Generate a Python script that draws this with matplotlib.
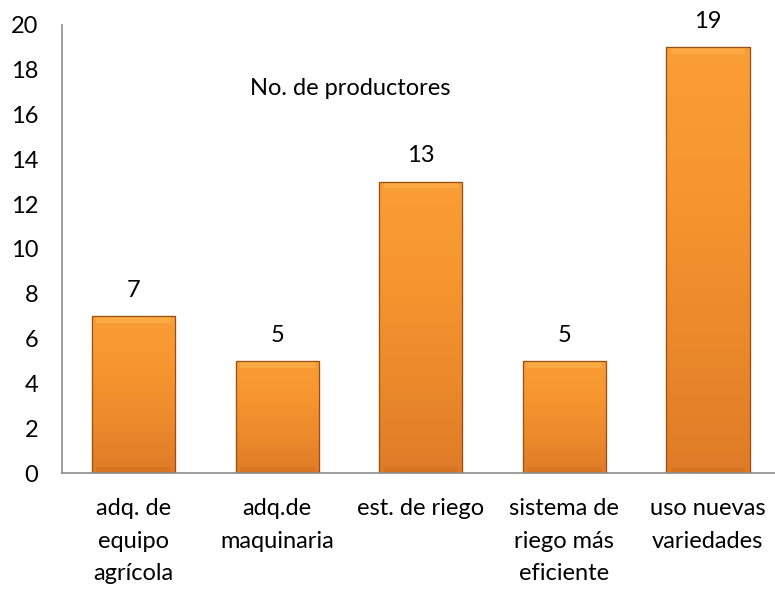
import numpy as np
import matplotlib
matplotlib.use("Agg")
import matplotlib.pyplot as plt
from matplotlib.colors import LinearSegmentedColormap

plt.rcParams['font.family'] = ['Lato', 'DejaVu Sans']

categories = ['adq. de\nequipo\nagrícola', 'adq.de\nmaquinaria', 'est. de riego',
              'sistema de\nriego más\neficiente', 'uso nuevas\nvariedades']
values = [7, 5, 13, 5, 19]
yticks = list(range(0, 21, 2))

fig = plt.figure(figsize=(7.75, 5.92), dpi=100)
ax = fig.add_axes([0.08, 0.201, 0.926, 0.757])

x = np.arange(len(values))
bars = ax.bar(x, values, width=0.58, color='#F2902E', edgecolor='#9A4F12', linewidth=0.8, zorder=2)

# vertical gradient inside every bar: light at top, darker at the base
cmap = LinearSegmentedColormap.from_list('org', ['#FA9E38', '#F7952F', '#EC8A2C', '#DF7B27'])
grad = np.linspace(1, 0, 256).reshape(-1, 1)
for b in bars:
    x0, y0 = b.get_x(), b.get_y()
    w, h = b.get_width(), b.get_height()
    im = ax.imshow(grad, cmap=cmap, aspect='auto', extent=[x0, x0 + w, y0, y0 + h],
                   zorder=2.1, origin='lower')
    im.set_clip_path(b)
    # soft bevel on top and darker band at bottom
    ax.fill_between([x0 + 0.03, x0 + w - 0.03], y0 + h - 0.3, y0 + h - 0.03,
                    color='#FFC35E', alpha=0.35, zorder=2.2, linewidth=0)
    ax.fill_between([x0 + 0.03, x0 + w - 0.03], y0, y0 + 0.25,
                    color='#C8681E', alpha=0.35, zorder=2.2, linewidth=0)
    ax.bar(x0 + w / 2, h, width=w, bottom=y0, fill=False, edgecolor='#9A4F12',
           linewidth=0.9, zorder=2.3)

for xi, v in zip(x, values):
    ax.annotate(str(v), (xi, v), xytext=(0, 11), textcoords='offset points',
                ha='center', va='bottom', fontsize=17, color='black')

ax.text(0.402, 0.858, 'No. de productores', transform=ax.transAxes,
        ha='center', va='center', fontsize=17)

ax.set_xlim(-0.5, len(values) - 0.5)
ax.set_ylim(0, 20)
ax.set_yticks(yticks)
ax.set_xticks(x)
ax.set_xticklabels(categories, linespacing=1.68)
ax.tick_params(axis='both', length=0, labelsize=17)
ax.tick_params(axis='y', pad=17)
ax.tick_params(axis='x', pad=18)

for s in ['top', 'right']:
    ax.spines[s].set_visible(False)
for s in ['left', 'bottom']:
    ax.spines[s].set_color('#8C8C8C')
    ax.spines[s].set_linewidth(1.2)

fig.savefig('out.png', dpi=100)
